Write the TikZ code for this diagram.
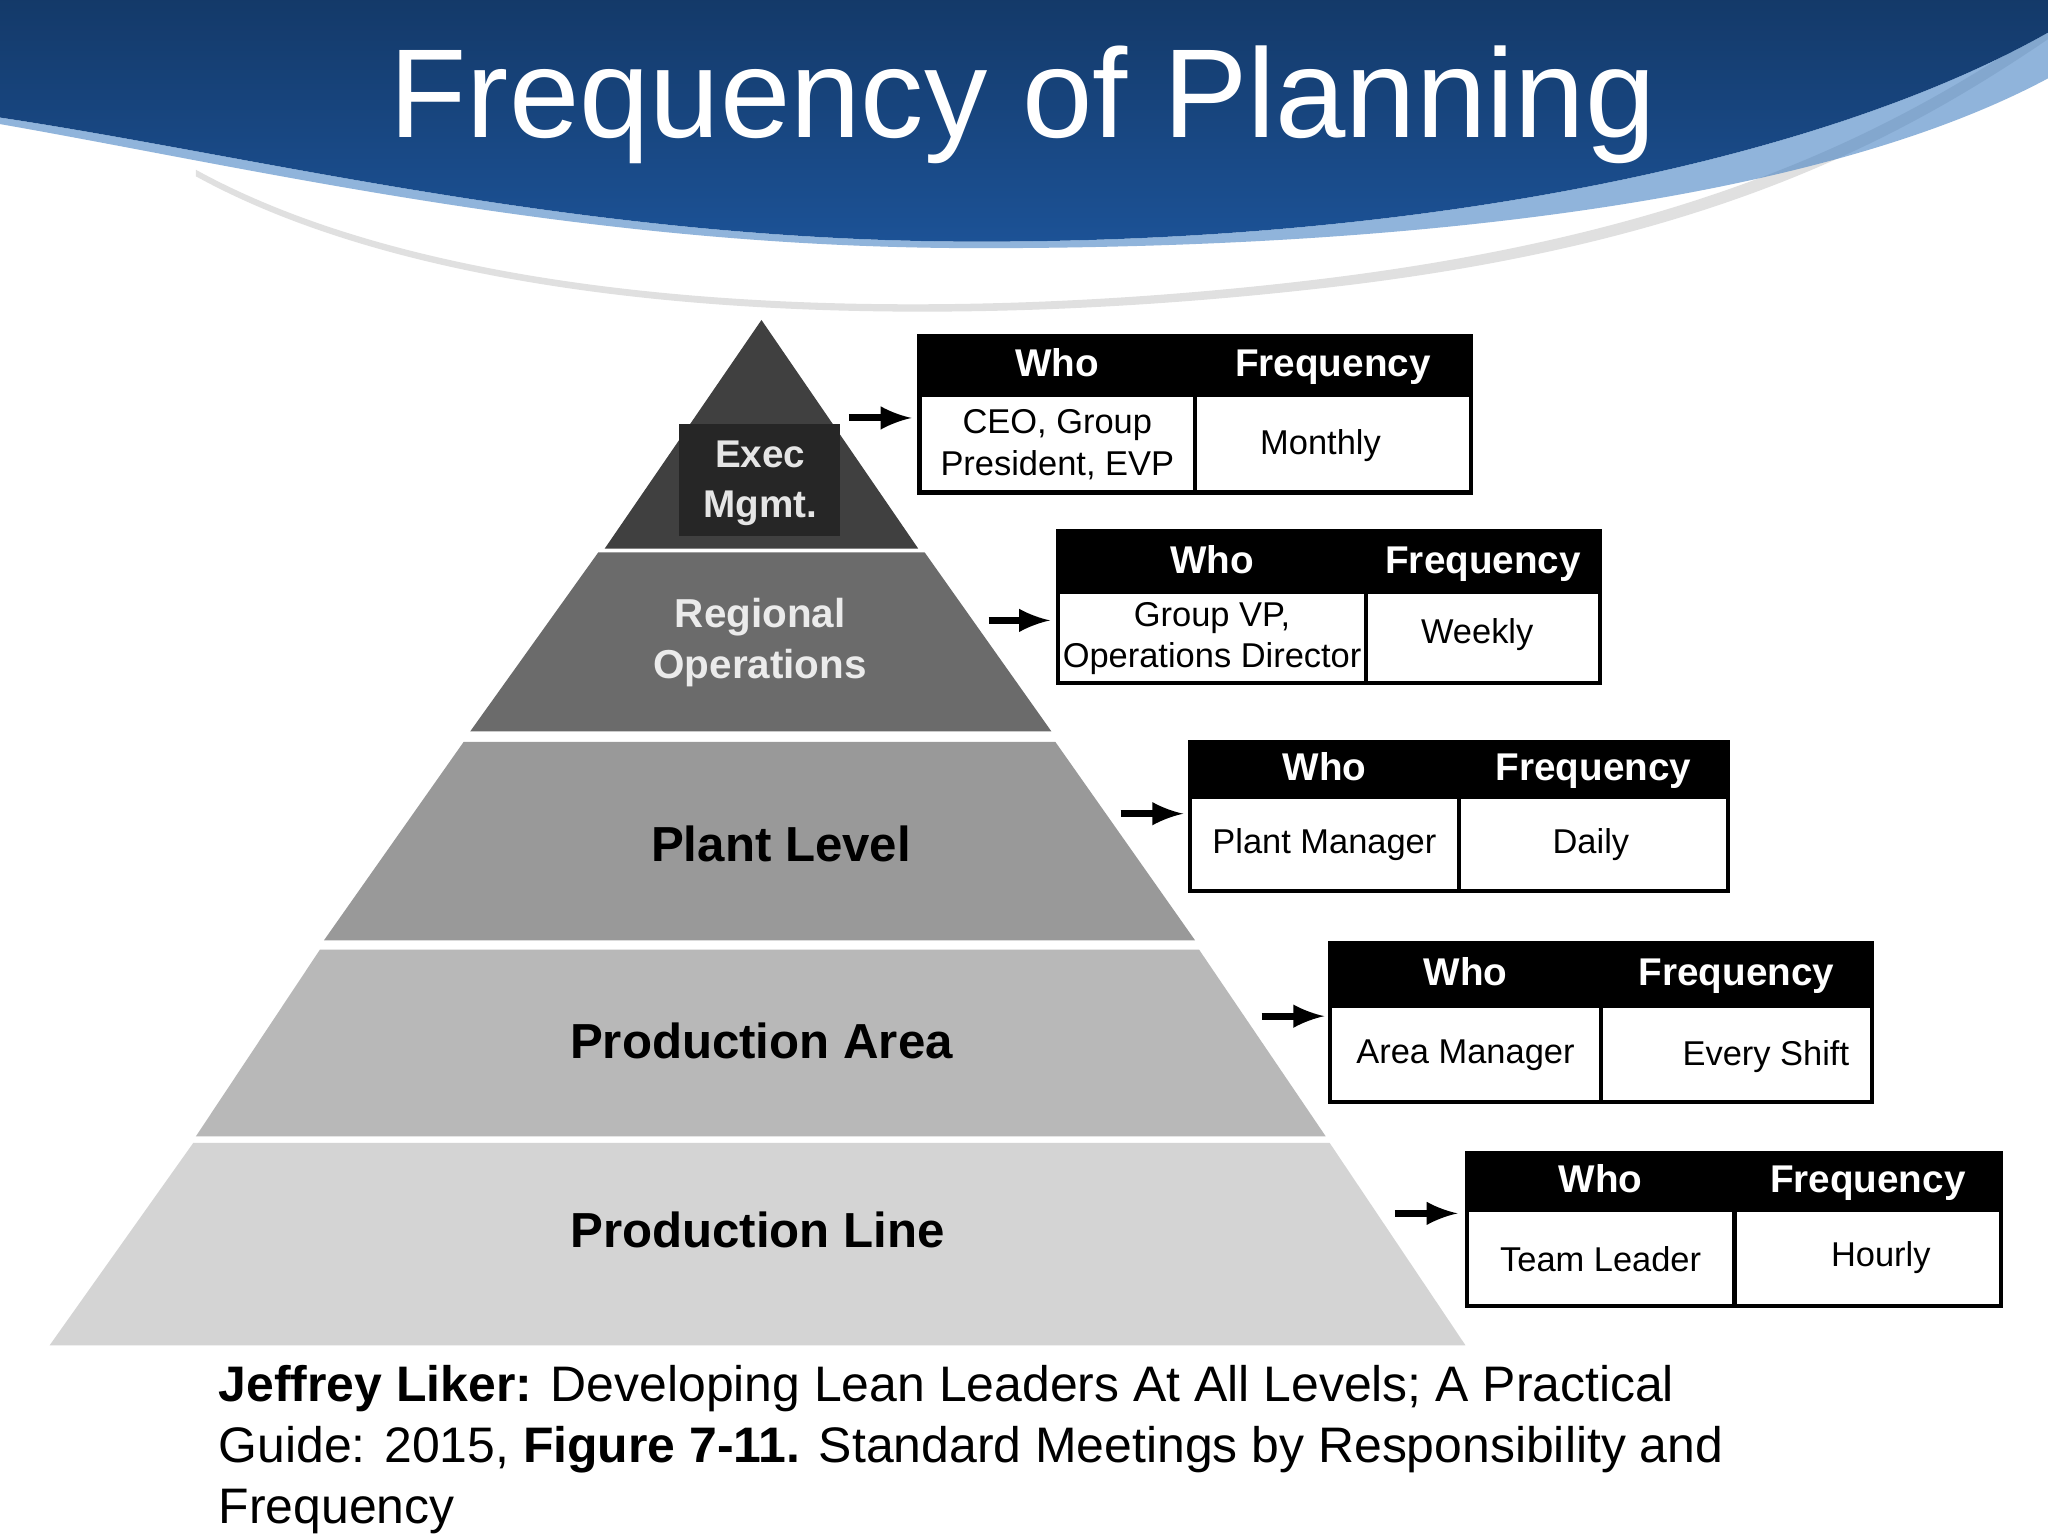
\documentclass[tikz,border=0pt]{standalone}
\usepackage{fontspec}
\setmainfont{Liberation Sans}
\definecolor{hblue}{RGB}{28,82,150}
\definecolor{hblue2}{RGB}{70,130,195}
\begin{document}
\begin{tikzpicture}[x=0.013061cm,y=-0.013061cm,
 hd/.style={font=\fontsize{11}{13}\selectfont\bfseries,text=white,text height=1.6ex,text depth=0.5ex},
 bd/.style={font=\fontsize{9.8}{11.8}\selectfont,align=center},
 lvl/.style={font=\fontsize{14}{17}\selectfont\bfseries,align=center},
 arr/.style={-latex,line width=2pt}]
\useasboundingbox (0,0) rectangle (1568,1176);
\fill[white] (0,0) rectangle (1568,1176);
% header
\fill[black!12] (150,130) .. controls (350,240) and (700,250) .. (1000,215) .. controls (1300,180) and (1450,100) .. (1568,20) -- (1568,30) .. controls (1450,110) and (1300,190) .. (1000,222) .. controls (700,255) and (350,245) .. (150,135) -- cycle;
\shade[top color=hblue!70!black,bottom color=hblue] (0,0) -- (1568,0) -- (1568,25) .. controls (1400,120) and (1100,185) .. (750,185) .. controls (450,185) and (200,120) .. (0,90) -- cycle;
\fill[hblue2,opacity=0.6] (0,90) .. controls (200,120) and (450,185) .. (750,185) .. controls (1100,185) and (1400,120) .. (1568,25) -- (1568,60) .. controls (1400,150) and (1100,190) .. (750,190) .. controls (450,190) and (200,130) .. (0,95) -- cycle;
\node[text=white,font=\fontsize{36}{42}\selectfont] (title) at (783,80) {Frequency of Planning};
% pyramid
\fill[black!75] (583,245) -- (703,420) -- (463,420) -- cycle;
\fill[black!85] (520,325) rectangle (643,410);
\node[lvl,font=\fontsize{11}{14}\selectfont\bfseries,text=black!10] (l1) at (582,370) {Exec\\Mgmt.};
\fill[black!58] (458,423) -- (708,423) -- (805,560) -- (360,560) -- cycle;
\node[lvl,font=\fontsize{11.5}{14.5}\selectfont\bfseries,text=black!8] (l2) at (582,492) {Regional\\Operations};
\fill[black!40] (355,568) -- (808,568) -- (915,720) -- (248,720) -- cycle;
\node[lvl] (l3) at (598,646) {Plant Level};
\fill[black!28] (245,727) -- (918,727) -- (1015,870) -- (150,870) -- cycle;
\node[lvl] (l4) at (583,797) {Production Area};
\fill[black!17] (148,875) -- (1018,875) -- (1122,1030) -- (38,1030) -- cycle;
\node[lvl] (l5) at (580,942) {Production Line};
% tables
\newcommand\tbl[8]{%
 \fill[black] (#1,#3) rectangle (#2,#4);
 \draw[line width=1.2pt] (#1,#3) rectangle (#2,#5);
 \draw[line width=1.2pt] (#6,#4) -- (#6,#5);
 \node[hd] (#8w) at ({(#1+#6)/2},{(#3+#4)/2}) {Who};
 \node[hd] (#8f) at ({(#6+#2)/2},{(#3+#4)/2}) {Frequency};
 \node[bd] (#8a) at ({(#1+#6)/2},{(#4+#5)/2}) {#7};
}
\tbl{704}{1126}{257}{304}{377}{915}{CEO, Group\\President, EVP}{t1}
\node[bd] (t1b) at (1011,341) {Monthly};
\tbl{810}{1225}{407}{455}{523}{1046}{Group VP,\\Operations Director}{t2}
\node[bd] (t2b) at (1131,486) {Weekly};
\tbl{911}{1323}{568}{612}{682}{1117}{Plant Manager}{t3}
\node[bd] (t3b) at (1218,647) {Daily};
\tbl{1018}{1433}{722}{772}{844}{1226}{Area Manager}{t4}
\node[bd] (t4b) at (1352,809) {Every Shift};
\tbl{1123}{1532}{883}{928}{1000}{1328}{Team Leader}{t5}
\node[bd] (t5b) at (1440,963) {Hourly};
% arrows
\coordinate (a1) at (650,320); \coordinate (b1) at (698,320);
\coordinate (a2) at (757,475); \coordinate (b2) at (804,475);
\coordinate (a3) at (858,623); \coordinate (b3) at (906,623);
\coordinate (a4) at (966,778); \coordinate (b4) at (1014,778);
\coordinate (a5) at (1068,929); \coordinate (b5) at (1116,929);
\foreach \i in {1,...,5} \draw[arr] (a\i) -- (b\i);
% caption
\node[anchor=north west,align=left,font=\fontsize{14.2}{17.3}\selectfont,inner sep=0] (cap) at (167,1045) {\textbf{Jeffrey Liker:} Developing Lean Leaders At All Levels; A Practical\\Guide: 2015, \textbf{Figure 7-11.} Standard Meetings by Responsibility and\\Frequency};
\end{tikzpicture}
\end{document}
